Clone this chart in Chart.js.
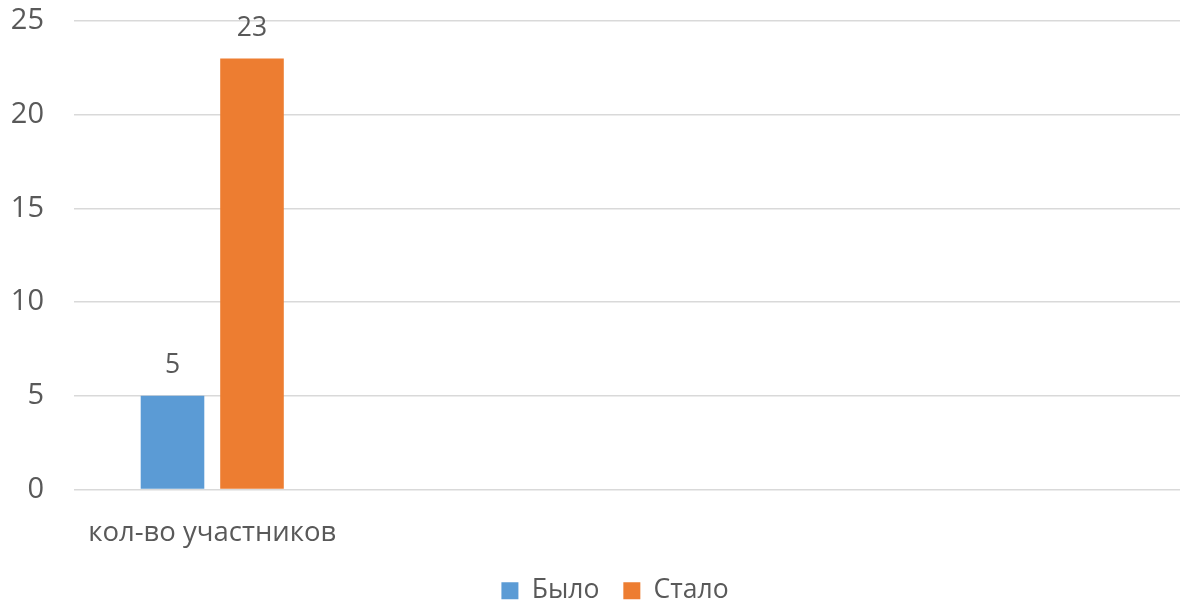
<!DOCTYPE html>
<html>
<head>
<meta charset="utf-8">
<script src="https://cdn.jsdelivr.net/npm/chart.js@4"></script>
<style>
html,body{margin:0;padding:0;background:#fff;}
#wrap{width:1180px;height:604px;position:relative;}
</style>
</head>
<body>
<div id="wrap"><canvas id="c" width="1180" height="604"></canvas></div>
<script>
const categories = ["кол-во участников", "", "", ""];
const seriesNames = ["Было", "Стало"];
const valuesBefore = [5, null, null, null];
const valuesAfter = [23, null, null, null];
const yTicks = [0, 5, 10, 15, 20, 25];

const FONT = "'Open Sans', 'Noto Sans', sans-serif";
const TEXT = "#595959";

const dataLabels = {
  id: "dataLabels",
  afterDatasetsDraw(chart) {
    const ctx = chart.ctx;
    ctx.save();
    ctx.font = "26.5px " + FONT;
    ctx.fillStyle = TEXT;
    ctx.textAlign = "center";
    ctx.textBaseline = "middle";
    chart.data.datasets.forEach((ds, i) => {
      const meta = chart.getDatasetMeta(i);
      meta.data.forEach((bar, j) => {
        const v = ds.data[j];
        if (v === null || v === undefined) return;
        ctx.fillText(String(v), bar.x, bar.y - 30);
      });
    });
    ctx.restore();
  }
};

const legendShift = {
  id: "legendShift",
  afterLayout(chart) {
    if (chart.legend) { chart.legend.left += 50; }
  }
};

new Chart(document.getElementById("c"), {
  type: "bar",
  data: {
    labels: categories,
    datasets: [
      { label: seriesNames[0], data: valuesBefore, backgroundColor: "#5B9BD5",
        categoryPercentage: 0.575, barPercentage: 0.80 },
      { label: seriesNames[1], data: valuesAfter, backgroundColor: "#ED7D31",
        categoryPercentage: 0.575, barPercentage: 0.80 }
    ]
  },
  options: {
    responsive: false,
    animation: false,
    devicePixelRatio: 1,
    layout: { padding: { top: 21, right: 0, left: 0, bottom: -10 } },
    plugins: {
      legend: {
        position: "bottom",
        labels: {
          font: { family: FONT, size: 26.5 },
          color: TEXT,
          boxWidth: 17,
          boxHeight: 17,
          padding: 24
        }
      },
      tooltip: { enabled: false }
    },
    scales: {
      x: {
        grid: { display: false, drawTicks: false },
        border: { display: false },
        ticks: { font: { family: FONT, size: 27.5 }, color: TEXT, padding: 27, maxRotation: 0, autoSkip: false },
        afterFit(axis) { axis.height = 64; axis.paddingLeft = 0; axis.paddingRight = 0; }
      },
      y: {
        min: 0, max: 25,
        afterBuildTicks(axis) { axis.ticks = yTicks.map(v => ({ value: v })); },
        grid: { color: "#D9D9D9", lineWidth: 1.5, drawTicks: false },
        border: { display: false },
        ticks: { font: { family: FONT, size: 29 }, color: TEXT, padding: 30 },
        afterFit(axis) { axis.width = 74; axis.paddingTop = 0; axis.paddingBottom = 0; }
      }
    }
  },
  plugins: [dataLabels, legendShift]
});
</script>
</body>
</html>
